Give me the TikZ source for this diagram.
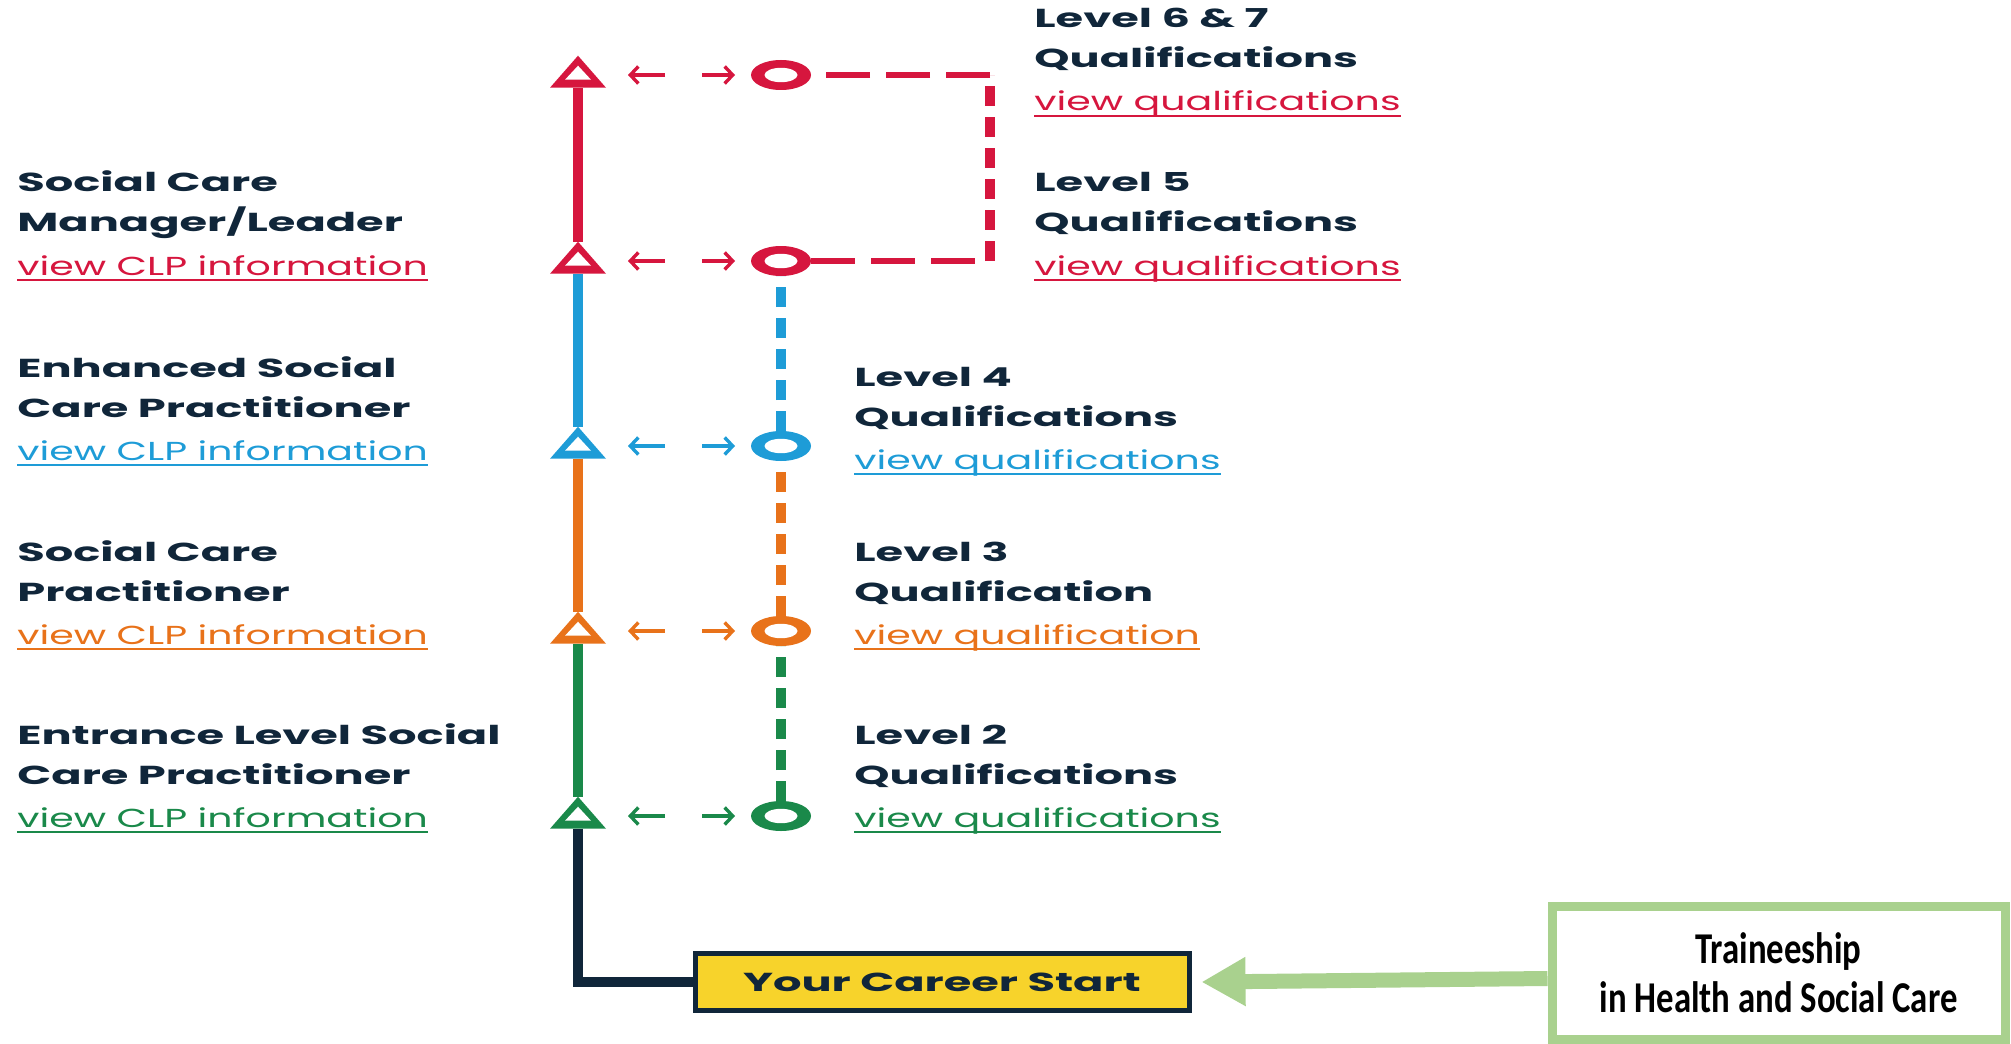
\documentclass[tikz,border=0pt]{standalone}
\usepackage{fontspec}
\usepackage{xcolor}
\usepackage{tikz}
\usetikzlibrary{shapes.geometric,arrows.meta,positioning}

\newfontfamily\popfont[FakeStretch=1.72]{Poppins}
\newfontfamily\poplink[FakeStretch=1.52]{Poppins}
\newfontfamily\calfont[FakeStretch=0.79]{Carlito}

\definecolor{clpred}{RGB}{214,22,62}
\definecolor{clpblue}{RGB}{30,156,215}
\definecolor{clporange}{RGB}{232,114,26}
\definecolor{clpgreen}{RGB}{26,137,74}
\definecolor{clpnavy}{RGB}{16,38,58}
\definecolor{clpyellow}{RGB}{247,211,43}
\definecolor{clplime}{RGB}{169,209,142}

\tikzset{
  tri/.style={isosceles triangle, shape border rotate=90, isosceles triangle stretches,
    minimum width=28pt, minimum height=16pt, inner sep=0pt, outer sep=0pt, fill=#1,
    path picture={\fill[white] ([yshift=4pt]path picture bounding box.south)
      ++(-6.5pt,0) -- ++(13pt,0) -- ++(-6.5pt,7pt) -- cycle;}},
  ring/.style={ellipse, minimum width=30pt, minimum height=15pt, inner sep=0pt, outer sep=0pt, fill=#1,
    path picture={\fill[white] (path picture bounding box.center) ellipse [x radius=8.25pt, y radius=3.6pt];}},
  ladder/.style={draw=#1, line width=5pt},
  dashes/.style={draw=#1, line width=5pt, dash pattern=on 10pt off 5.5pt},
  hdashes/.style={draw=#1, line width=3pt, dash pattern=on 22pt off 8pt},
  hint/.style={draw=#1, line width=1.7pt, -{Straight Barb[length=4pt,width=8.5pt]}},
  title/.style={anchor=base west, inner sep=0pt, text=clpnavy,
    font=\popfont\bfseries\fontsize{13pt}{16pt}\selectfont},
  link/.style={anchor=base west, inner sep=0pt, text=#1,
    font=\poplink\fontsize{13pt}{16pt}\selectfont},
}

% name, x, first baseline, line 1, line 2, colour, link
\newcommand{\clpblock}[7]{%
  \node[title] (#1a) at (#2,-#3) {#4};
  \node[title] (#1b) at (#2,-#3-40) {#5};
  \node[link=#6] (#1c) at (#2,-#3-83) {#7};
  \draw[#6, line width=1pt] ([yshift=-2.5pt]#1c.base west) -- ([yshift=-2.5pt]#1c.base east);}

\begin{document}
\begin{tikzpicture}[x=0.5pt,y=0.5pt]
  \useasboundingbox (0,0) rectangle (2011,-1043);

  % career ladder
  \node[tri=clpgreen]  (t1) at (578,-816) {};
  \node[tri=clporange] (t2) at (578,-631) {};
  \node[tri=clpblue]   (t3) at (578,-446) {};
  \node[tri=clpred]    (t4) at (578,-261) {};
  \node[tri=clpred]    (t5) at (578,-75) {};

  % qualifications
  \node[ring=clpgreen]  (c1) at (781,-816) {};
  \node[ring=clporange] (c2) at (781,-631) {};
  \node[ring=clpblue]   (c3) at (781,-446) {};
  \node[ring=clpred]    (c4) at (781,-261) {};
  \node[ring=clpred]    (c5) at (781,-75) {};
  \coordinate (b4) at (990,-261);
  \coordinate (b5) at (990,-75);

  \draw[ladder=clpgreen]  (t1.north) -- (t2.south);
  \draw[ladder=clporange] (t2.north) -- (t3.south);
  \draw[ladder=clpblue]   (t3.north) -- (t4.south);
  \draw[ladder=clpred]    (t4.north) -- (t5.south);

  \draw[dashes=clpgreen]  (c1.north) -- (c2.south);
  \draw[dashes=clporange] (c2.north) -- (c3.south);
  \draw[dashes=clpblue]   (c3.north) -- (c4.south);
  \draw[hdashes=clpred]   (c4.east) -- (b4);
  \draw[dashes=clpred]    (b4) -- (b5);
  \draw[hdashes=clpred]   (b5) -- (c5.east);

  \draw[hint=clpgreen]  ([xshift=43.5pt]t1.center) -- ([xshift=25pt]t1.center);
  \draw[hint=clpgreen]  ([xshift=-39.5pt]c1.center) -- ([xshift=-23pt]c1.center);
  \draw[hint=clporange] ([xshift=43.5pt]t2.center) -- ([xshift=25pt]t2.center);
  \draw[hint=clporange] ([xshift=-39.5pt]c2.center) -- ([xshift=-23pt]c2.center);
  \draw[hint=clpblue]   ([xshift=43.5pt]t3.center) -- ([xshift=25pt]t3.center);
  \draw[hint=clpblue]   ([xshift=-39.5pt]c3.center) -- ([xshift=-23pt]c3.center);
  \draw[hint=clpred]    ([xshift=43.5pt]t4.center) -- ([xshift=25pt]t4.center);
  \draw[hint=clpred]    ([xshift=-39.5pt]c4.center) -- ([xshift=-23pt]c4.center);
  \draw[hint=clpred]    ([xshift=43.5pt]t5.center) -- ([xshift=25pt]t5.center);
  \draw[hint=clpred]    ([xshift=-39.5pt]c5.center) -- ([xshift=-23pt]c5.center);

  % start and traineeship
  \node[draw=clpnavy, line width=2.5pt, fill=clpyellow, text=clpnavy,
    minimum width=247pt, minimum height=28.5pt,
    font=\popfont\bfseries\fontsize{13pt}{16pt}\selectfont] (start) at (942,-982) {Your Career Start};
  \node[draw=clplime, line width=4.5pt, align=center, minimum width=226.5pt, minimum height=66.5pt,
    font=\calfont\bfseries\fontsize{22pt}{24.5pt}\selectfont] (trainee) at (1778.5,-972.5)
    {Traineeship\\in Health and Social Care};
  \draw[ladder=clpnavy] (t1.south) |- (start.west);
  \draw[clplime, line width=7.5pt, -{Triangle[length=22pt,width=23pt]}]
    ([yshift=-3pt]trainee.west) -- ([xshift=5pt]start.east);

  % labels
  \clpblock{mgr}{17}{192}{Social Care}{Manager/Leader}{clpred}{view CLP information}
  \clpblock{enh}{17}{377}{Enhanced Social}{Care Practitioner}{clpblue}{view CLP information}
  \clpblock{prac}{17}{561}{Social Care}{Practitioner}{clporange}{view CLP information}
  \clpblock{entr}{17}{744}{Entrance Level Social}{Care Practitioner}{clpgreen}{view CLP information}
  \clpblock{lsix}{1034}{28}{Level 6 \& 7}{Qualifications}{clpred}{view qualifications}
  \clpblock{lfive}{1034}{192}{Level 5}{Qualifications}{clpred}{view qualifications}
  \clpblock{lfour}{854}{386}{Level 4}{Qualifications}{clpblue}{view qualifications}
  \clpblock{lthree}{854}{561}{Level 3}{Qualification}{clporange}{view qualification}
  \clpblock{ltwo}{854}{744}{Level 2}{Qualifications}{clpgreen}{view qualifications}
\end{tikzpicture}
\end{document}
